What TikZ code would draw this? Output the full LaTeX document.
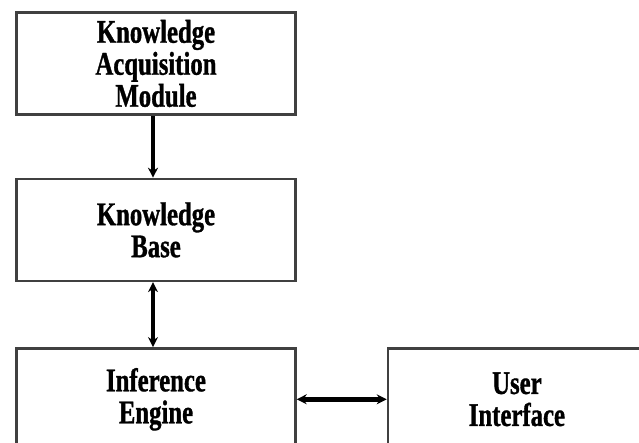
\documentclass[tikz,border=0pt]{standalone}
\usepackage{fontspec}
\setmainfont{Liberation Serif}[FakeStretch=0.75,FakeBold=1]
\usetikzlibrary{arrows.meta,positioning}

\tikzset{
  block/.style={draw=black!75, line width=2.4pt, minimum width=279pt,
    minimum height=102pt, align=center,
    font=\fontsize{33}{32}\selectfont\bfseries},
  link/.style={line width=3.6pt, >={Stealth[length=10pt,width=10pt]}}
}

\begin{document}
\begin{tikzpicture}[node distance=62pt]
  \useasboundingbox (0,0) rectangle (639pt,-443pt);
  \node[block]  (kam) at (156pt,-63.5pt) {Knowledge\\Acquisition\\Module};
  \node[block]  (kb)  [below=of kam]     {Knowledge\\Base};
  \node[block]  (ie)  [below=65pt of kb] {Inference\\Engine};
  \node[block, minimum width=258pt] (ui) [right=90pt of ie] {User\\Interface};

  \draw[link,->]  ([xshift=-3pt]kam.south) -- ([xshift=-3pt]kb.north);
  \draw[link,<->] ([xshift=-3pt]kb.south)  -- ([xshift=-3pt]ie.north);
  \draw[link,<->,line width=5pt] (ie.east) -- (ui.west);
\end{tikzpicture}
\end{document}
